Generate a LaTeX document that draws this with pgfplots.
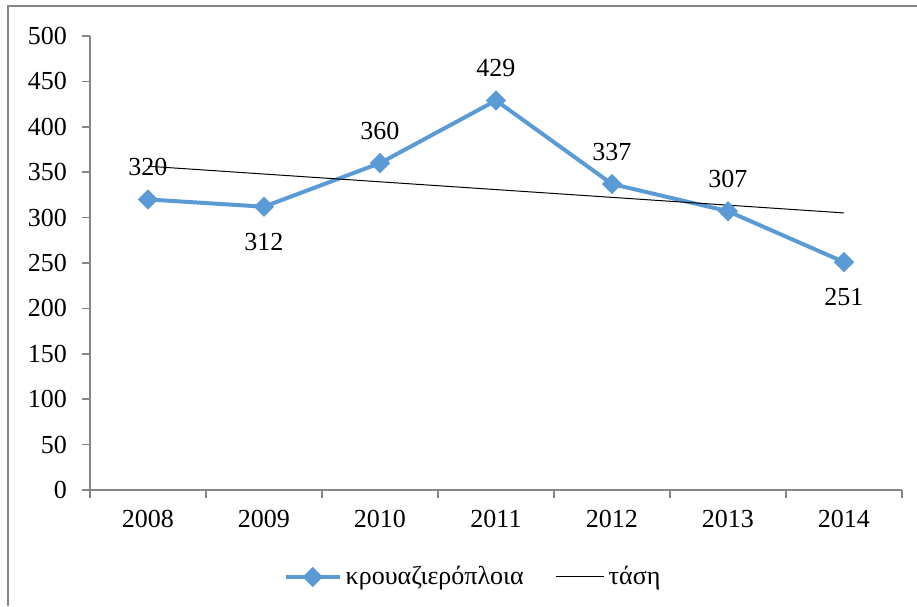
\documentclass[border=0pt]{standalone}
\usepackage{fontspec}
\setmainfont{Liberation Serif}
\usepackage{pgfplots}
\pgfplotsset{compat=1.18}
\definecolor{axisgray}{RGB}{134,134,134}
\definecolor{linblue}{RGB}{91,155,213}
\newcommand{\chartfont}{\rmfamily\fontsize{13pt}{15pt}\selectfont}
\pgfplotsset{
  bluelegend/.style={legend image code/.code={\draw[##1,mark repeat=2,mark phase=2] plot coordinates {(0pt,0pt) (13.5pt,0pt) (27pt,0pt)};}},
  blacklegend/.style={legend image code/.code={\draw[##1] (0pt,0pt) -- (24pt,0pt);}}
}
\begin{document}
\begin{tikzpicture}
\useasboundingbox (-45pt,-58pt) rectangle (413.5pt,245pt);
\draw[axisgray, line width=1pt] (-41pt,-58pt) -- (-41pt,242pt) -- (413.5pt,242pt);
\begin{axis}[
  at={(0,0)}, anchor=south west,
  scale only axis, width=406pt, height=227pt,
  xmin=-0.5, xmax=6.5, ymin=0, ymax=500,
  axis x line*=bottom, axis y line*=left,
  axis line style={draw=axisgray, line width=0.75pt},
  xtick={0,...,6}, xticklabels={2008,2009,2010,2011,2012,2013,2014},
  ytick={0,50,...,500},
  minor xtick={-0.5,0.5,...,6.5},
  minor ytick={0,50,...,500},
  major tick length=0pt, minor tick length=4pt,
  tick align=outside,
  every tick/.style={draw=axisgray, line width=0.75pt},
  /pgf/number format/assume math mode=true,
  tick label style={font=\chartfont, text=black},
  yticklabel style={xshift=-8pt},
  xticklabel style={yshift=-6.5pt},
  clip=false,
  legend style={at={(0.473,-0.1916)}, anchor=center, draw=none,
    font=\chartfont, legend columns=-1,
    /tikz/every even column/.append style={column sep=14pt}},
]
\addplot[linblue, line width=2pt, mark=square*, mark size=2.6pt,
  mark options={rotate=45, fill=linblue, draw=linblue},
  nodes near coords, point meta=explicit symbolic,
  visualization depends on={value \thisrow{s}\as\myshift},
  every node near coord/.append style={anchor=center, yshift=\myshift pt, text=black,
     font=\chartfont},
  bluelegend
] table[x=x, y=y, meta=y] {
x y s
0 320 16
1 312 -17.5
2 360 16
3 429 16
4 337 16
5 307 16
6 251 -17.5
};
\addlegendentry{κρουαζιερόπλοια}
\addplot[black, line width=0.5pt, blacklegend] coordinates {(0,356.57) (6,305.14)};
\addlegendentry{τάση}
\end{axis}
\end{tikzpicture}
\end{document}
